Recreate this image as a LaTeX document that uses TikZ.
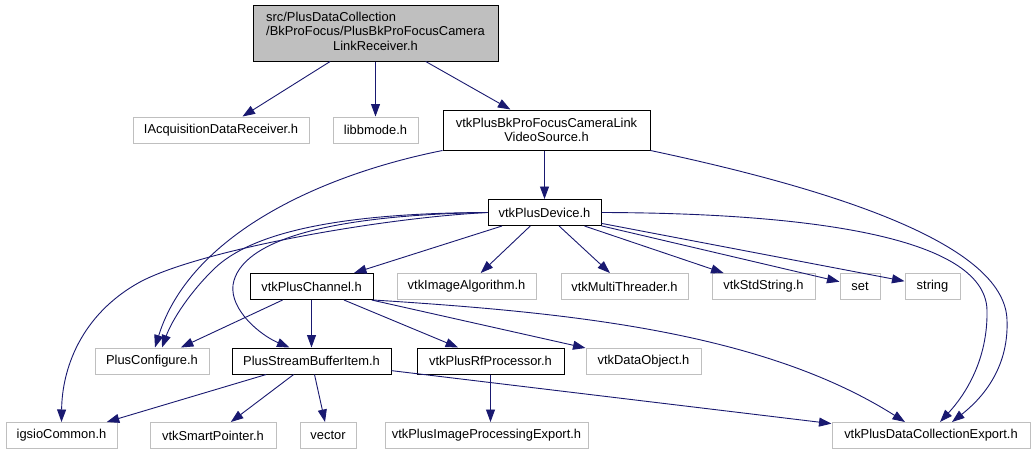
\documentclass[tikz,border=0pt]{standalone}
\usepackage{fontspec}
\setmainfont{Liberation Sans}
\usetikzlibrary{arrows.meta}
\definecolor{edgeblue}{RGB}{25,25,112}
\definecolor{boxgray}{RGB}{191,191,191}

\begin{document}
\begin{tikzpicture}[x=1pt,y=-1pt,
  font=\fontsize{12.9}{14.5}\selectfont,
  hdr/.style={draw=boxgray,line width=1pt,inner sep=0pt,minimum height=26pt},
  doc/.style={draw=black,line width=1pt,inner sep=0pt,minimum height=26pt},
  top/.style={draw=black,fill=boxgray,line width=1pt,inner sep=0pt},
  dep/.style={draw=edgeblue,line width=0.9pt,-{Triangle[length=12.5pt,width=9pt]}}]
  \useasboundingbox (0,0) rectangle (1035,455);
  \fill[white] (0,0) rectangle (1035,455);

  \node[top,minimum width=245pt,minimum height=56pt] (recv) at (375.5,33)
    {\begin{tabular}{@{}l@{}}src/PlusDataCollection\\/BkProFocus/PlusBkProFocusCamera\\\multicolumn{1}{@{}c@{}}{LinkReceiver.h}\end{tabular}};
  \node[hdr,minimum width=176pt] (iacq) at (221,130) {IAcquisitionDataReceiver.h};
  \node[hdr,minimum width=85pt] (bmode) at (375.5,130) {libbmode.h};
  \node[doc,minimum width=207pt,minimum height=40pt,align=center] (vsrc) at (546.5,130)
    {vtkPlusBkProFocusCameraLink\\VideoSource.h};
  \node[doc,minimum width=113pt] (dev) at (544.5,212.5) {vtkPlusDevice.h};
  \node[doc,minimum width=123pt] (chan) at (311.5,286.5) {vtkPlusChannel.h};
  \node[hdr,minimum width=139pt] (imgalg) at (466.5,286.5) {vtkImageAlgorithm.h};
  \node[hdr,minimum width=127pt] (mthr) at (624.5,286.5) {vtkMultiThreader.h};
  \node[hdr,minimum width=103pt] (stdstr) at (763.5,286.5) {vtkStdString.h};
  \node[hdr,minimum width=40pt] (stlset) at (860,286.5) {set};
  \node[hdr,minimum width=55pt] (stlstr) at (932.5,286.5) {string};
  \node[hdr,minimum width=114pt] (pconf) at (152,361) {PlusConfigure.h};
  \node[doc,minimum width=159pt] (sbuf) at (311.5,361) {PlusStreamBufferItem.h};
  \node[doc,minimum width=147pt] (rfp) at (490.5,361) {vtkPlusRfProcessor.h};
  \node[hdr,minimum width=115pt] (dobj) at (643.5,361) {vtkDataObject.h};
  \node[hdr,minimum width=111pt] (igsio) at (61.5,435.5) {igsioCommon.h};
  \node[hdr,minimum width=126pt] (smart) at (213,435.5) {vtkSmartPointer.h};
  \node[hdr,minimum width=56pt] (stlvec) at (328,435.5) {vector};
  \node[hdr,minimum width=203pt] (ipexp) at (486.5,435.5) {vtkPlusImageProcessingExport.h};
  \node[hdr,minimum width=198pt] (dcexp) at (931,435.5) {vtkPlusDataCollectionExport.h};

  \draw[dep] (recv) -- (iacq);
  \draw[dep] (recv) -- (bmode);
  \draw[dep] (recv) -- (vsrc);
  \draw[dep] (vsrc.south west) .. controls (320,175) and (190,235) .. ([xshift=3pt]pconf.north);
  \draw[dep] (dev |- vsrc.south) -- (dev);
  \draw[dep] (vsrc.south east) .. controls (860,195) and (1005,250) .. (1007,320)
    .. controls (1009,370) and (980,400) .. ([xshift=21pt]dcexp.north);
  \draw[dep] (dev) -- (chan);
  \draw[dep] (dev) -- (imgalg);
  \draw[dep] (dev) -- (mthr);
  \draw[dep] (dev) -- (stdstr);
  \draw[dep] (dev) -- (stlset);
  \draw[dep] (dev) -- (stlstr);
  \draw[dep] (dev.east) .. controls (800,213) and (985,235) .. (987,310)
    .. controls (988,360) and (965,395) .. ([xshift=9pt]dcexp.north);
  \draw[dep] (dev.west) .. controls (380,218) and (200,250) .. (140,282)
    .. controls (80,315) and (62,370) .. (igsio.north);
  \draw[dep] (dev.west) .. controls (330,213) and (250,235) .. (215,268)
    .. controls (190,292) and (172,320) .. ([xshift=10pt]pconf.north);
  \draw[dep] (dev.west) .. controls (330,215) and (240,240) .. (233,285)
    .. controls (230,310) and (260,335) .. ([xshift=-22pt]sbuf.north);
  \draw[dep] (chan) -- (pconf);
  \draw[dep] (chan) -- (sbuf);
  \draw[dep] (chan) -- (rfp);
  \draw[dep] (chan) -- (dobj);
  \draw[dep] (chan.south east) .. controls (560,312) and (760,330) .. ([xshift=-26pt]dcexp.north);
  \draw[dep] (sbuf) -- (igsio);
  \draw[dep] (sbuf) -- (smart);
  \draw[dep] (sbuf) -- (stlvec);
  \draw[dep] (sbuf) -- (dcexp);
  \draw[dep] (rfp) -- (rfp |- ipexp.north);
\end{tikzpicture}
\end{document}
